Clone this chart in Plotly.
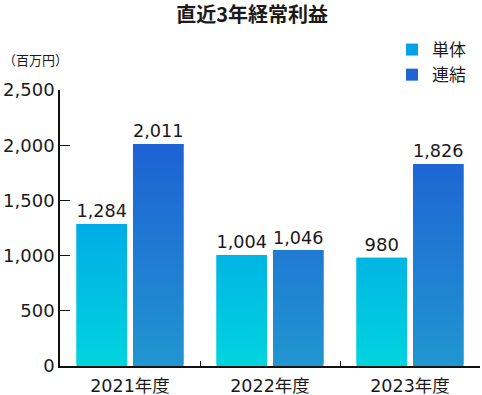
import plotly.graph_objects as go

# ---- data ----
categories = ["2021年度", "2022年度", "2023年度"]
series_names = ["単体", "連結"]
tantai = [1284, 1004, 980]
renketsu = [2011, 1046, 1826]
y_ticks = [0, 500, 1000, 1500, 2000, 2500]
y_tick_labels = ["0", "500", "1,000", "1,500", "2,000", "2,500"]

FONT = "Noto Sans CJK JP, Noto Sans, sans-serif"
NUMFONT = "DejaVu Sans, Noto Sans CJK JP, sans-serif"
TXT = "#1a1a1a"

# gradient anchors (value -> color), absolute along the value axis
grad = {
    "単体": ((0, (0, 212, 222)), (1300, (0, 172, 230))),
    "連結": ((0, (33, 150, 208)), (2000, (30, 98, 212))),
}
legend_color = {"単体": "#00a3e8", "連結": "#1e64d2"}
STEP = 20


def color_at(name, v):
    (v0, c0), (v1, c1) = grad[name]
    t = (v - v0) / (v1 - v0)
    c = [round(a + (b - a) * t) for a, b in zip(c0, c1)]
    c = [max(0, min(255, x)) for x in c]
    return "rgb(%d,%d,%d)" % tuple(c)


fig = go.Figure()

for name, vals in zip(series_names, [tantai, renketsu]):
    grp = name
    # legend entry
    fig.add_trace(go.Bar(
        x=categories, y=[None] * len(categories), name=name, offsetgroup=grp,
        marker=dict(color=legend_color[name], line=dict(width=0)),
        showlegend=True, hoverinfo="skip"))
    # gradient segments (each overlaps the next one, drawn on top, to hide seams)
    k = 0
    while k * STEP < max(vals):
        lo = k * STEP
        seg = [min(2 * STEP, v - lo) if v - lo > 0 else None for v in vals]
        fig.add_trace(go.Bar(
            x=categories, y=seg, base=[lo] * len(vals), offsetgroup=grp,
            marker=dict(color=color_at(name, lo + STEP / 2), line=dict(width=0)),
            showlegend=False, hoverinfo="skip"))
        k += 1
    # value labels
    fig.add_trace(go.Bar(
        x=categories, y=vals, offsetgroup=grp,
        marker=dict(color="rgba(0,0,0,0)", line=dict(width=0)),
        text=[f"{v:,}" for v in vals], textposition="outside",
        textfont=dict(size=18, color=TXT, family=NUMFONT),
        cliponaxis=False, showlegend=False, hoverinfo="skip"))

fig.update_layout(
    width=482, height=395,
    margin=dict(l=60, r=2, t=90, b=29, autoexpand=False),
    paper_bgcolor="white", plot_bgcolor="white",
    barmode="group", bargap=0.193, bargroupgap=0.106,
    font=dict(family=FONT, color=TXT),
    title=dict(text="<b>直近3年経常利益</b>", x=0.523, xanchor="center",
               xref="container", y=1 - 15 / 395, yref="container", yanchor="middle",
               font=dict(size=20, color=TXT, family=FONT)),
    showlegend=True,
    legend=dict(x=392 / 482, y=1 - 32 / 395, xref="container", yref="container",
                xanchor="left", yanchor="top",
                font=dict(size=17, color=TXT, family=FONT),
                bgcolor="rgba(0,0,0,0)", tracegroupgap=0, itemwidth=30),
    hovermode=False,
)

fig.update_xaxes(
    type="category", range=[-0.5, 2.5], automargin=False,
    showline=True, linecolor="#111", linewidth=1.5,
    ticks="inside", ticklen=5, tickcolor="#111", tickwidth=1.2,
    tickson="boundaries", showgrid=False, ticklabelstandoff=3,
    tickfont=dict(size=17.5, color=TXT, family=NUMFONT),
)
fig.update_yaxes(
    range=[0, 2500], tickvals=y_ticks, ticktext=y_tick_labels, automargin=False,
    showline=True, linecolor="#111", linewidth=1.5,
    ticks="inside", ticklen=10, tickcolor="#111", tickwidth=1.2,
    showgrid=False, zeroline=False,
    tickfont=dict(size=18, color=TXT, family=NUMFONT),
)

fig.add_annotation(text="（百万円）", xref="paper", yref="paper",
                   x=-0.14, y=1.109, xanchor="left", yanchor="middle",
                   showarrow=False, font=dict(size=13, color=TXT, family=FONT))

fig.write_html("out.html", config={"displayModeBar": False},
               post_script="document.body.style.margin='0';")
